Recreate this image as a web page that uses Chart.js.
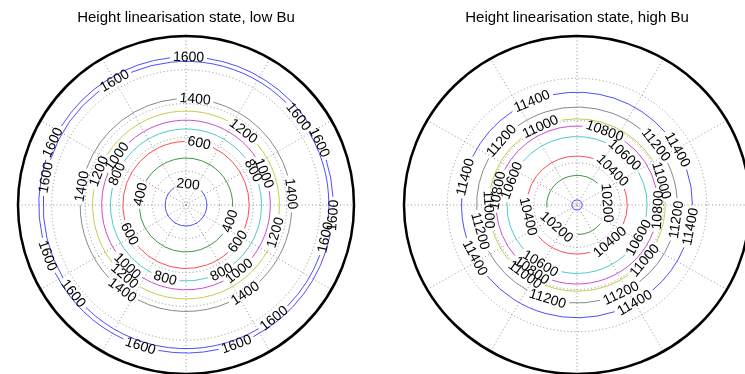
<!DOCTYPE html>
<html>
<head>
<meta charset="utf-8">
<script src="https://cdn.jsdelivr.net/npm/chart.js@4/dist/chart.umd.min.js"></script>
<style>
  html, body { margin: 0; padding: 0; background: #fff; overflow: hidden; width: 745px; height: 374px; }
  .panel { position: absolute; top: 0; width: 372px; height: 374px; }
</style>
</head>
<body>
<div class="panel" style="left:0px"><canvas id="lowBu" width="372" height="374"></canvas></div>
<div class="panel" style="left:391px"><canvas id="highBu" width="372" height="374"></canvas></div>
<script>
// ---- low Bu: contour levels and their ring radii (polar radius units) ----
const lowLevels = [200, 400, 600, 800, 1000, 1200, 1400, 1600, 1600];
const lowRadii  = [0.62, 1.39, 1.88, 2.25, 2.51, 2.78, 3.15, 4.25, 4.38];
const lowRMax = 5;
const lowGridRings = [1, 2, 3, 4];
// inline contour labels: which ring, and the polar angle (deg) where it sits
const lowLabelRing  = [0, 1, 1, 2, 2, 2, 3, 3, 3, 3, 4, 4, 4, 4, 5, 5, 5, 5,
                       6, 6, 6, 6, 6, 7, 7, 7, 7, 7, 7, 8, 8, 8, 8, 8, 8, 8];
const lowLabelAngle = [84, 167, -20, 78, 207, -35, 27, 156, 254, -62, 22, 145, 226, -51, 52, 159, 229, -17,
                       85, 6, 170, 233, -56, 120, 38, 169, 218, -52, -13, 89, 25, 155, 200, 252, -70, -4];

// ---- high Bu ----
const highLevels = [10000, 10200, 10400, 10600, 10800, 11000, 11200, 11400];
const highRadii  = [0.12, 0.70, 1.16, 1.62, 1.87, 2.04, 2.32, 2.67];
const highRMax = 4;
const highGridRings = [1, 2, 3];
const highLabelRing  = [1, 1, 2, 2, 2, 3, 3, 3, 3, 4, 4, 4, 4, 5, 5, 5, 5, 5,
                        6, 6, 6, 6, 6, 6, 7, 7, 7, 7, 7, 7];
const highLabelAngle = [4, 228, 45, 193.5, -49, 47, 159, 238.6, -28.5, 70, 169.5, 236, -3.6, 114.5, 16.5, 183, 234, -40,
                        139, 38, -8.6, 195.5, 253, -64, 113, 29.4, -11, -60, 208, 165.6];

// line colour cycle used for successive contour levels (b g r c m y k)
const levelColors = ['#3a3aff', '#2a8a2a', '#ff3a3a', '#3ac4c4', '#c43ac4', '#c4c43a', '#7a7a7a'];
const spokeStep = 30;

const labelFont = '14px "Liberation Sans", Arial, sans-serif';

function polarContourPlugin(cfg) {
  // colour follows the level's rank, so repeated levels share a colour
  const uniq = [...new Set(cfg.levels)].sort((a, b) => a - b);
  const colorOf = lvl => levelColors[uniq.indexOf(lvl) % levelColors.length];
  return {
    id: 'polarContour',
    afterDraw(chart) {
      const ctx = chart.ctx;
      const xs = chart.scales.x, ys = chart.scales.y;
      const cx = xs.getPixelForValue(0), cy = ys.getPixelForValue(0);
      const kx = v => xs.getPixelForValue(v) - cx;
      const ky = v => cy - ys.getPixelForValue(v);
      const TWO = Math.PI * 2;
      const ring = (v, a0, a1) => {
        ctx.beginPath();
        ctx.ellipse(cx, cy, kx(v), ky(v), 0, a0, a1);
        ctx.stroke();
      };
      ctx.save();

      // dotted polar grid: rings and spokes
      ctx.strokeStyle = '#777';
      ctx.lineWidth = 0.8;
      ctx.setLineDash([1, 2.5]);
      cfg.gridRings.forEach(g => ring(g, 0, TWO));
      const Rx = kx(cfg.rMax), Ry = ky(cfg.rMax);
      for (let a = 0; a < 180; a += spokeStep) {
        const t = a * Math.PI / 180;
        ctx.beginPath();
        ctx.moveTo(cx - Rx * Math.cos(t), cy + Ry * Math.sin(t));
        ctx.lineTo(cx + Rx * Math.cos(t), cy - Ry * Math.sin(t));
        ctx.stroke();
      }
      ctx.setLineDash([]);

      // contour rings, broken where their labels sit
      ctx.font = labelFont;
      const norm = a => ((a % TWO) + TWO) % TWO;
      cfg.radii.forEach((rv, i) => {
        const r = (kx(rv) + ky(rv)) / 2;
        const gaps = [];
        cfg.labelRing.forEach((ri, k) => {
          if (ri !== i) return;
          const w = ctx.measureText(String(cfg.levels[i])).width;
          const half = (w / 2 + 3) / r;
          const phi = -cfg.labelAngle[k] * Math.PI / 180;
          gaps.push([phi - half, phi + half]);
        });
        ctx.strokeStyle = colorOf(cfg.levels[i]);
        ctx.lineWidth = 0.9;
        if (!gaps.length) { ring(rv, 0, TWO); return; }
        const gs = gaps.map(g => [norm(g[0]), norm(g[0]) + (g[1] - g[0])]).sort((a, b) => a[0] - b[0]);
        for (let k = 0; k < gs.length; k++) {
          const start = gs[k][1];
          const end = k + 1 < gs.length ? gs[k + 1][0] : gs[0][0] + TWO;
          if (end > start) ring(rv, start, end);
        }
      });

      // contour labels, along the ring tangent and kept upright
      ctx.fillStyle = '#000';
      ctx.textAlign = 'center';
      ctx.textBaseline = 'middle';
      cfg.labelRing.forEach((ri, k) => {
        const th = cfg.labelAngle[k];
        const rv = cfg.radii[ri];
        const t = th * Math.PI / 180;
        let rot = th + 90;
        rot = ((rot + 90) % 180 + 180) % 180 - 90;
        ctx.save();
        ctx.translate(cx + kx(rv) * Math.cos(t), cy - ky(rv) * Math.sin(t));
        ctx.rotate(-rot * Math.PI / 180);
        ctx.fillText(String(cfg.levels[ri]), 0, 0.5);
        ctx.restore();
      });

      // solid outer boundary
      ctx.strokeStyle = '#000';
      ctx.lineWidth = 2.5;
      ring(cfg.rMax, 0, TWO);
      ctx.restore();
    }
  };
}

function makePolar(id, title, cfg, side) {
  const axis = { type: 'linear', min: -cfg.rMax, max: cfg.rMax, display: false };
  return new Chart(document.getElementById(id), {
    type: 'scatter',
    data: { datasets: [] },
    options: {
      responsive: false,
      animation: false,
      devicePixelRatio: 1,
      layout: { padding: { left: side, right: side, top: 0, bottom: 0 } },
      scales: { x: axis, y: { ...axis } },
      plugins: {
        legend: { display: false },
        tooltip: { enabled: false },
        title: {
          display: true,
          text: title,
          color: '#000',
          font: { family: '"Liberation Sans", Arial, sans-serif', size: 15, weight: 'normal', lineHeight: 1.2 },
          padding: { top: 9, bottom: 9 }
        }
      }
    },
    plugins: [polarContourPlugin(cfg)]
  });
}

makePolar('lowBu', 'Height linearisation state, low Bu', {
  levels: lowLevels, radii: lowRadii, rMax: lowRMax, gridRings: lowGridRings,
  labelRing: lowLabelRing, labelAngle: lowLabelAngle
}, 18);
makePolar('highBu', 'Height linearisation state, high Bu', {
  levels: highLevels, radii: highRadii, rMax: highRMax, gridRings: highGridRings,
  labelRing: highLabelRing, labelAngle: highLabelAngle
}, 13);
</script>
</body>
</html>
